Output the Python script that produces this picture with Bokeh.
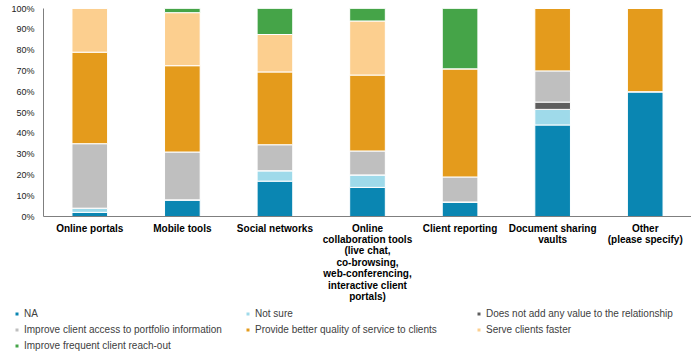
from bokeh.plotting import figure
from bokeh.models import Range1d, FactorRange, FixedTicker, PrintfTickFormatter, Legend, LegendItem, ColumnDataSource
from bokeh.layouts import column
from bokeh.embed import file_html
from bokeh.resources import INLINE

categories = [
    "Online portals",
    "Mobile tools",
    "Social networks",
    "Online\ncollaboration tools\n(live chat,\nco-browsing,\nweb-conferencing,\ninteractive client\nportals)",
    "Client reporting",
    "Document sharing\nvaults",
    "Other\n(please specify)",
]

na_vals = [2, 8, 17, 14, 7, 44, 60]
not_sure = [2, 0, 5, 6, 0, 7.5, 0]
no_value = [0, 0, 0, 0, 0, 3.5, 0]
improve_access = [31, 23, 12.5, 11.5, 12, 15, 0]
better_service = [44, 41.5, 35, 36.5, 52, 30, 40]
serve_faster = [21, 25.5, 18, 26, 0, 0, 0]
frequent_reach = [0, 2, 12.5, 6, 29, 0, 0]

series_names = [
    "NA",
    "Not sure",
    "Does not add any value to the relationship",
    "Improve client access to portfolio information",
    "Provide better quality of service to clients",
    "Serve clients faster",
    "Improve frequent client reach-out",
]
colors = ["#0A86B2", "#9FDAEA", "#5E5E5E", "#BFBFBF", "#E49B1C", "#FCCF8F", "#45A448"]
y_ticks = [0, 10, 20, 30, 40, 50, 60, 70, 80, 90, 100]

keys = ["s0", "s1", "s2", "s3", "s4", "s5", "s6"]
source = ColumnDataSource(data={
    "cat": categories,
    "s0": na_vals, "s1": not_sure, "s2": no_value, "s3": improve_access,
    "s4": better_service, "s5": serve_faster, "s6": frequent_reach,
})

FONT = "Liberation Sans"

p = figure(
    x_range=FactorRange(*categories, range_padding=0),
    y_range=Range1d(0, 100),
    width=691, height=305,
    output_backend="svg", toolbar_location=None,
    min_border_left=43, min_border_right=0, min_border_top=8, min_border_bottom=88,
)
p.frame_align = False
p.outline_line_color = None
p.xgrid.grid_line_color = None
p.ygrid.grid_line_color = None

renderers = p.vbar_stack(keys, x="cat", width=0.385, fill_color=colors,
                         line_color="white", line_width=1, source=source)

# y axis
p.yaxis.ticker = FixedTicker(ticks=y_ticks)
p.yaxis.formatter = PrintfTickFormatter(format="%d%%")
p.yaxis.axis_line_color = "#7F7F7F"
p.yaxis.major_tick_line_color = None
p.yaxis.minor_tick_line_color = None
p.yaxis.major_tick_out = 0
p.yaxis.major_label_standoff = 9
p.yaxis.major_label_text_font = FONT
p.yaxis.major_label_text_font_size = "9px"
p.yaxis.major_label_text_color = "#222222"

# x axis
p.xaxis.axis_line_color = "#7F7F7F"
p.xaxis.major_tick_line_color = None
p.xaxis.minor_tick_line_color = None
p.xaxis.major_tick_out = 0
p.xaxis.major_label_standoff = 6
p.xaxis.major_label_text_font = FONT
p.xaxis.major_label_text_font_size = "10px"
p.xaxis.major_label_text_font_style = "bold"
p.xaxis.major_label_text_color = "#000000"
p.xaxis.major_label_text_line_height = 1.04
p.xaxis.major_label_orientation = "horizontal"

# legend strip below the chart (its own figure, bars kept out of view)
q = figure(
    x_range=FactorRange(*categories, range_padding=0),
    y_range=Range1d(1000, 1001),
    width=691, height=52,
    output_backend="svg", toolbar_location=None,
    x_axis_type=None, y_axis_type=None,
    min_border_left=0, min_border_right=0, min_border_top=0, min_border_bottom=0,
)
q.frame_align = False
q.outline_line_color = None
q.xgrid.grid_line_color = None
q.ygrid.grid_line_color = None
legend_renderers = q.vbar_stack(keys, x="cat", width=0.385, fill_color=colors,
                                line_color="white", line_width=1, source=source)

items = [LegendItem(label=n, renderers=[r]) for n, r in zip(series_names, legend_renderers)]
legend = Legend(
    items=items, location=(14, 4), ncols=3, orientation="horizontal",
    glyph_width=5, glyph_height=5, label_width=221, label_height=16,
    label_standoff=5, spacing=0, padding=0, margin=0,
    border_line_color=None, background_fill_alpha=0,
    label_text_font=FONT, label_text_font_size="10px",
    label_text_color="#404040",
)
q.add_layout(legend)

layout = column(p, q, spacing=0)
open("out.html", "w").write(file_html(layout, INLINE))
